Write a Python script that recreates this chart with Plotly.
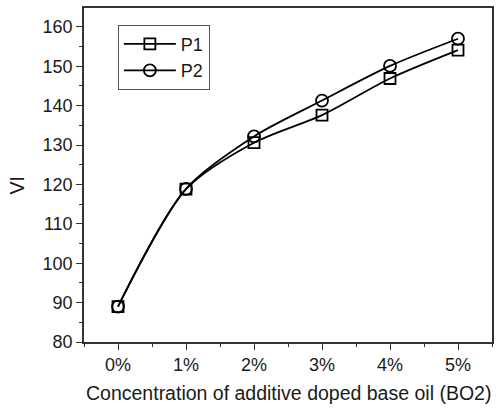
import plotly.graph_objects as go

# Additive concentration (x positions and tick labels)
concentration = [0, 1, 2, 3, 4, 5]
tick_labels = ["0%", "1%", "2%", "3%", "4%", "5%"]

# Viscosity index for each blend
vi_p1 = [89.0, 118.8, 130.6, 137.6, 146.9, 154.1]
vi_p2 = [89.0, 118.9, 132.2, 141.3, 150.1, 157.0]

font_family = "Liberation Sans, Arial, sans-serif"
ink = "#1a1a1a"

fig = go.Figure()
fig.add_trace(go.Scatter(
    x=concentration, y=vi_p1, name="P1", mode="lines+markers",
    line=dict(color="black", width=1.8, shape="spline", smoothing=0.8),
    marker=dict(symbol="square-open", size=11, color="black",
                line=dict(width=1.8, color="black")),
))
fig.add_trace(go.Scatter(
    x=concentration, y=vi_p2, name="P2", mode="lines+markers",
    line=dict(color="black", width=1.8, shape="spline", smoothing=0.8),
    marker=dict(symbol="circle-open", size=12, color="black",
                line=dict(width=1.8, color="black")),
))

axis_common = dict(
    showline=True, linecolor="#333333", linewidth=1.5, mirror=True,
    showgrid=False, zeroline=False, ticks="outside", ticklen=6,
    tickwidth=1.2, tickcolor="#333333",
    tickfont=dict(family=font_family, size=18, color=ink),
)

fig.update_layout(
    width=496, height=409,
    margin=dict(l=84, r=2, t=8, b=67),
    paper_bgcolor="white", plot_bgcolor="white",
    font=dict(family=font_family, color=ink),
    xaxis=dict(
        range=[-0.5, 5.5], tickmode="array", tickvals=concentration,
        ticktext=tick_labels,
        minor=dict(ticks="outside", ticklen=3, tickcolor="#333333",
                   dtick=0.5, tick0=0.5),
        **axis_common,
    ),
    yaxis=dict(
        range=[80, 164.8], tickmode="linear", tick0=80, dtick=10,
        minor=dict(ticks="outside", ticklen=3, tickcolor="#333333", dtick=5),
        **axis_common,
    ),
    legend=dict(
        x=0.083, y=0.95, xanchor="left", yanchor="top",
        bordercolor="#555555", borderwidth=1, bgcolor="white",
        font=dict(family=font_family, size=18, color=ink),
        itemwidth=52, tracegroupgap=0,
    ),
    annotations=[
        dict(text="Concentration of additive doped base oil (BO2)",
             xref="paper", yref="paper", x=0.5, y=-0.152,
             xanchor="center", yanchor="middle", showarrow=False,
             font=dict(family=font_family, size=19.5, color=ink)),
        dict(text="VI", xref="paper", yref="paper", x=-0.163, y=0.47,
             xanchor="center", yanchor="middle", showarrow=False,
             textangle=-90,
             font=dict(family=font_family, size=19.5, color=ink)),
    ],
)

fig.write_html("out.html")
